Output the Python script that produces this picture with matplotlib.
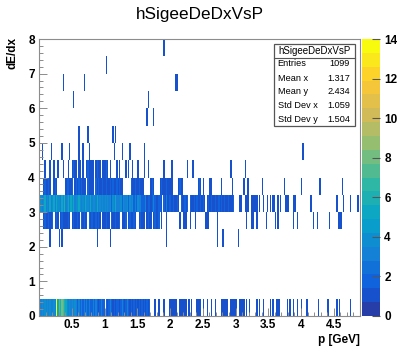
import matplotlib

matplotlib.use("Agg")
import matplotlib.pyplot as plt
import numpy as np
from matplotlib.colors import LinearSegmentedColormap, ListedColormap
from matplotlib.patches import Rectangle
from matplotlib.lines import Line2D
from matplotlib.ticker import MultipleLocator

W, H = 399, 346
P_MAX = 4.9
N_PBINS = 245                 # 0.02 GeV per bin
N_YBINS = 16                  # 0.5 per bin, 0..8
Z_MAX = 14
N_CONT = 20

# bin contents along p for each dE/dx row: one char per p bin,
# '.' = empty, 1-9 as is, a-e = 10-14; groups of 10 bins (0.2 GeV) for reading
ROW_0_0 = ("2343434343 343e576876 5434343432 3232323232 2323212322 .212321212 "
           "2123212321 2121212121 21212...1. .1...1...1 11111..111 111.1.1... "
           "1111.1..1. .1..1....1 1111..1111 1..1111.1. 1.....1.1. .1....1.1. "
           ".111.....1 .1..1..1.. 1...1..... ...1...... 1......1.1 .......1.. .....")
ROW_2_0 = ("........1. .....1.1.. .......... .......... ....1..... ....1..... "
           ".......... .......... .......... .......1.. .......... .......... "
           ".......... ......1... 1......... ..1.......")
ROW_2_5 = ("...1211211 2.121.1211 1121.12112 1.21211.21 2112121.11 1211.21121 "
           "12.1112.12 1121..1211 1.1211.121 12.1...1.. .......1.. 111..1...1 "
           ".......111 ......1... .......... ........1. ..11..1... ...1...... "
           "1.1....... ....1..1.. .........1 ..1....... .1......11 1.........")
ROW_3_0 = ("2434534353 4535443546 3453545344 5434354435 3443534343 4343424353 "
           "3342433424 3423243322 2312212321 1221.21312 2121121.21 1212.21121 "
           "2112121.12 1211211212 121121112. ...11..111 ..11111.1. .1..1.1.11 "
           "..1.1...11 1...11.... .......1.. .......... .......1.. ..1....1.. ...1.")
ROW_3_5 = ("...121121. .121...... 122112.121 212111.211 11.2121121 1211212112 "
           "1211...... 2112112111 .....121.. ..12111211 11....1211 .......... "
           ".121.1.... 11.......1 .......1.. ......1..1 .......... 1......... "
           ".......1.. .......... 1......... ....1..... .......... .1........")
ROW_4_0 = ("....1...1. .1..1...1. ..1..1211. 11.1..1211 11.1211.11 121.1....1 "
           ".1....1.1. .1...1.... 1..1...... .....1.... .1........ ...1...1.. "
           ".......... .......... ......1... .......1..")
ROW_4_5 = ("..1......1 .......1.. ...1...... 1..1....1. .......... .......1.. "
           "...1.....1 .......... 1......... .......... .......... .......... "
           ".......... .......... .......... .......... .......... .......... "
           ".......... .......... .1........")
ROW_5_0 = ".......... .......... .......... 1......1.. .......... ......1.1."
ROW_5_5 = (".......... .......... .......... .......... .......... .......... "
           ".......... .......... ..1....1..")
ROW_6_0 = (".......... .......... ......1... .......... .......... .......... "
           ".......... .......... ...1......")
ROW_6_5 = (".......... ........1. .......... ....1..... .......... .......... "
           ".......... .......... .......... .......... ....11....")
ROW_7_0 = ".......... .......... .......... .......... .......... .1........"
ROW_7_5 = (".......... .......... .......... .......... .......... .......... "
           ".......... .......... .......... .....1....")

# (row index in 0.5 steps of dE/dx, contents)
ROWS = [(0, ROW_0_0), (4, ROW_2_0), (5, ROW_2_5), (6, ROW_3_0), (7, ROW_3_5),
        (8, ROW_4_0), (9, ROW_4_5), (10, ROW_5_0), (11, ROW_5_5), (12, ROW_6_0),
        (13, ROW_6_5), (14, ROW_7_0), (15, ROW_7_5)]

STATS_LABELS = ["Entries", "Mean x", "Mean y", "Std Dev x", "Std Dev y"]
STATS_VALUES = ["1099", "1.317", "2.434", "1.059", "1.504"]

# ROOT kBird palette
BIRD_STOPS = [0.0, 0.125, 0.25, 0.375, 0.5, 0.625, 0.75, 0.875, 1.0]
BIRD_R = [0.2082, 0.0592, 0.0780, 0.0232, 0.1802, 0.5301, 0.8186, 0.9956, 0.9764]
BIRD_G = [0.1664, 0.3599, 0.5041, 0.6419, 0.7178, 0.7492, 0.7328, 0.7862, 0.9832]
BIRD_B = [0.5293, 0.8684, 0.8385, 0.7914, 0.6425, 0.4662, 0.3499, 0.1968, 0.0539]


def fx(px):
    return px / W


def fy(py):
    return 1 - py / H


def parse_row(s):
    s = s.replace(" ", "").ljust(N_PBINS, ".")
    return [0 if c == "." else int(c, 16) for c in s]


def main():
    counts = np.zeros((N_YBINS, N_PBINS))
    for iy, s in ROWS:
        counts[iy] = parse_row(s)

    bird = LinearSegmentedColormap.from_list(
        "bird", list(zip(BIRD_STOPS, zip(BIRD_R, BIRD_G, BIRD_B))), N=255)
    level_cols = [bird(int((i + 0.99) * 255 / N_CONT) / 255) for i in range(N_CONT)]
    cmap = ListedColormap(level_cols)

    level = np.clip(np.floor(counts * N_CONT / Z_MAX), 0, N_CONT - 1)
    level = np.ma.masked_where(counts <= 0, level)

    xedges = np.linspace(0, P_MAX, N_PBINS + 1)
    yedges = np.linspace(0, 8, N_YBINS + 1)

    plt.rcParams["font.family"] = ["Liberation Sans", "DejaVu Sans"]
    fig = plt.figure(figsize=(W / 100, H / 100), dpi=100)
    ax = fig.add_axes([fx(39), fy(316), fx(360) - fx(39), fy(39) - fy(316)])
    ax.pcolormesh(xedges, yedges, level, cmap=cmap, vmin=-0.5, vmax=N_CONT - 0.5)
    ax.set_xlim(0, P_MAX)
    ax.set_ylim(0, 8)

    frame = "#8c8c8c"
    for sp in ax.spines.values():
        sp.set_color(frame)
        sp.set_linewidth(0.8)
    xt = [0.5, 1, 1.5, 2, 2.5, 3, 3.5, 4, 4.5]
    ax.set_xticks(xt)
    ax.set_xticklabels(["0.5", "1", "1.5", "2", "2.5", "3", "3.5", "4", "4.5"])
    ax.set_yticks(range(9))
    ax.xaxis.set_minor_locator(MultipleLocator(0.1))
    ax.yaxis.set_minor_locator(MultipleLocator(0.2))
    ax.tick_params(which="both", direction="in", color=frame, width=0.7,
                   top=False, right=False)
    ax.tick_params(which="major", length=6)
    ax.tick_params(which="minor", length=3)
    ax.tick_params(axis="x", which="major", pad=2.5)
    ax.tick_params(axis="y", which="major", pad=3)
    for lab in ax.get_xticklabels() + ax.get_yticklabels():
        lab.set_fontweight("bold")
        lab.set_fontsize(8.5)

    fig.text(fx(360), fy(339.5), "p [GeV]", ha="right", va="center",
             fontsize=8.5, fontweight="bold")
    fig.text(fx(12.5), fy(37), "dE/dx", ha="center", va="top", rotation=90,
             fontsize=8.5, fontweight="bold")
    fig.text(0.5, fy(15), "hSigeeDeDxVsP", ha="center", va="center", fontsize=12.3)

    # palette axis
    cax = fig.add_axes([fx(362), fy(316), fx(380) - fx(362), fy(39) - fy(316)])
    zedges = np.linspace(0, Z_MAX, N_CONT + 1)
    cax.pcolormesh([0, 1], zedges, np.arange(N_CONT).reshape(-1, 1), cmap=cmap,
                   vmin=-0.5, vmax=N_CONT - 0.5)
    cax.set_xlim(0, 1)
    cax.set_ylim(0, Z_MAX)
    cax.set_xticks([])
    cax.set_yticks(range(0, Z_MAX + 1, 2))
    cax.yaxis.tick_right()
    cax.tick_params(axis="y", direction="in", length=6, width=0.8,
                    color="#555555", pad=3)
    for lab in cax.get_yticklabels():
        lab.set_fontweight("bold")
        lab.set_fontsize(8.5)
    for sp in cax.spines.values():
        sp.set_visible(False)

    # statistics box
    bx0, bx1, by0, by1 = 274, 355, 44, 126.5
    fig.add_artist(Rectangle((fx(bx0), fy(by1)), fx(bx1) - fx(bx0), fy(by0) - fy(by1),
                             transform=fig.transFigure, facecolor="white",
                             edgecolor="#555555", linewidth=0.9, zorder=5))
    fig.add_artist(Line2D([fx(bx0), fx(bx1)], [fy(57.5), fy(57.5)],
                          transform=fig.transFigure, color="#555555",
                          linewidth=0.8, zorder=6))
    fig.text(fx((bx0 + bx1) / 2), fy(50.5), "hSigeeDeDxVsP", ha="center",
             va="center", fontsize=7, zorder=7)
    row_y = [64, 78.5, 91.5, 105.5, 119]
    for yy, lab, val in zip(row_y, STATS_LABELS, STATS_VALUES):
        fig.text(fx(277.5), fy(yy), lab, ha="left", va="center", fontsize=6.6, zorder=7)
        fig.text(fx(350), fy(yy), val, ha="right", va="center", fontsize=6.6, zorder=7)

    fig.savefig("out.png", dpi=100)
    plt.close(fig)


if __name__ == "__main__":
    main()
